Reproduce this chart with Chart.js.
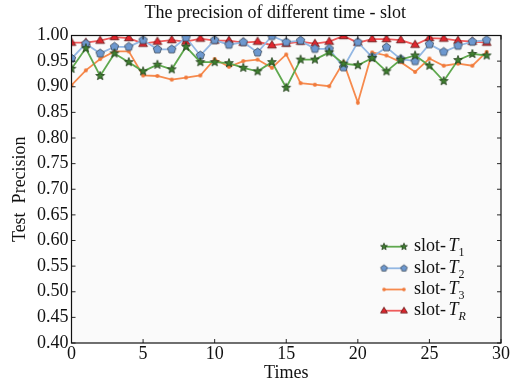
<!DOCTYPE html>
<html><head><meta charset="utf-8">
<script src="https://cdn.jsdelivr.net/npm/chart.js@4.4.1/dist/chart.umd.min.js"></script>
<style>html,body{margin:0;padding:0;background:#fff}#wrap{width:511px;height:380px}</style>
</head><body><div id="wrap"><canvas id="c" width="511" height="380"></canvas></div>
<script>
// ---- data ----
const times = [0,1,2,3,4,5,6,7,8,9,10,11,12,13,14,15,16,17,18,19,20,21,22,23,24,25,26,27,28,29];
const slotT1 = [0.935,0.975,0.921,0.965,0.948,0.930,0.943,0.934,0.978,0.948,0.948,0.946,0.937,0.930,0.948,0.898,0.953,0.953,0.967,0.945,0.942,0.956,0.930,0.953,0.961,0.941,0.911,0.952,0.964,0.961];
const slotT2 = [0.955,0.984,0.965,0.978,0.978,0.991,0.973,0.973,0.996,0.961,0.991,0.982,0.987,0.967,0.999,0.987,0.990,0.974,0.974,0.938,0.987,0.958,0.977,0.954,0.950,0.983,0.968,0.980,0.988,0.991];
const slotT3 = [0.903,0.932,0.954,0.969,0.969,0.922,0.921,0.914,0.918,0.922,0.954,0.939,0.950,0.953,0.937,0.963,0.907,0.904,0.901,0.948,0.869,0.967,0.961,0.948,0.929,0.955,0.941,0.945,0.941,0.968];
const slotTR = [0.986,0.986,0.990,0.997,0.995,0.984,0.988,0.991,0.988,0.994,0.990,0.990,0.986,0.988,0.981,0.984,0.988,0.984,0.988,0.999,0.986,0.993,0.993,0.991,0.982,0.995,0.994,0.990,0.988,0.986];
const xTicks = [0,5,10,15,20,25,30];
const yTicks = [0.40,0.45,0.50,0.55,0.60,0.65,0.70,0.75,0.80,0.85,0.90,0.95,1.00];
const seriesSubs = ['1','2','3','R'];
const chartTitle = 'The precision of different time - slot';
const xTitle = 'Times';
const yTitle = 'Test  Precision';

// ---- marker images ----
function mk(size, draw){ const c=document.createElement('canvas'); c.width=size; c.height=size; const g=c.getContext('2d'); g.translate(size/2,size/2); draw(g); return c; }
function poly(g, pts, fill, edge, lw){ g.beginPath(); pts.forEach((p,i)=> i?g.lineTo(p[0],p[1]):g.moveTo(p[0],p[1])); g.closePath(); g.fillStyle=fill; g.fill(); g.strokeStyle=edge; g.lineWidth=lw; g.stroke(); }
function starPts(r){ const p=[]; for(let i=0;i<10;i++){ const rr = i%2? r*0.42 : r; const a=-Math.PI/2 + i*Math.PI/5; p.push([rr*Math.cos(a), rr*Math.sin(a)]); } return p; }
function pentPts(r){ const p=[]; for(let i=0;i<5;i++){ const a=-Math.PI/2 + i*2*Math.PI/5; p.push([r*Math.cos(a), r*Math.sin(a)]); } return p; }
function triPts(r){ return [[0,-r],[r*0.95,r*0.6],[-r*0.95,r*0.6]]; }
const starImg = (r)=>mk(Math.ceil(2*r+4), g=>poly(g, starPts(r), '#3f7f30', '#1e3a16', 0.8));
const pentImg = (r)=>mk(Math.ceil(2*r+4), g=>poly(g, pentPts(r), '#6d98cf', '#3a4656', 0.8));
const triImg  = (r)=>mk(Math.ceil(2*r+4), g=>poly(g, triPts(r), '#e0262e', '#5a1212', 0.8));
const dotImg  = (r)=>mk(Math.ceil(2*r+4), g=>{ g.beginPath(); g.arc(0,0,r,0,Math.PI*2); g.fillStyle='#f07a3c'; g.fill(); });

const styles = [
  {line:'#5fa84e', img: starImg(4.6), legImg: starImg(3.6)},
  {line:'#93b7e3', img: pentImg(4.4), legImg: pentImg(3.4)},
  {line:'#f68a4d', img: dotImg(2.0),  legImg: dotImg(1.8)},
  {line:'#ef5b5b', img: triImg(4.6),  legImg: triImg(3.6)},
];
const series = [slotT1, slotT2, slotT3, slotTR];

const datasets = series.map((vals,i)=>({
  label: 'slot- T' + seriesSubs[i],
  data: times.map((t,k)=>({x:t, y:vals[k]})),
  borderColor: styles[i].line,
  backgroundColor: styles[i].line,
  borderWidth: 1.8,
  pointStyle: styles[i].img,
  pointRadius: 4,
  tension: 0,
}));

const serif = '"Liberation Serif", "Times New Roman", serif';

const framePlugin = {
  id:'frame',
  afterLayout(chart){ const t = chart.titleBlock; if (t) { t.left -= 11; t.right -= 11; } },
  beforeDraw(chart){ const {ctx, chartArea:a} = chart; ctx.save(); ctx.fillStyle='#fafafa'; ctx.fillRect(a.left,a.top,a.right-a.left,a.bottom-a.top); ctx.restore(); },
  afterDatasetsDraw(chart){
    const {ctx, chartArea:a, scales:{x,y}} = chart;
    ctx.save(); ctx.strokeStyle='#111'; ctx.lineWidth=1.2;
    ctx.strokeRect(a.left, a.top, a.right-a.left, a.bottom-a.top);
    ctx.beginPath(); ctx.lineWidth=0.9;
    xTicks.forEach(v=>{ const px=x.getPixelForValue(v); ctx.moveTo(px,a.bottom); ctx.lineTo(px,a.bottom-4); ctx.moveTo(px,a.top); ctx.lineTo(px,a.top+4); });
    yTicks.forEach(v=>{ const py=y.getPixelForValue(v); ctx.moveTo(a.left,py); ctx.lineTo(a.left+4,py); ctx.moveTo(a.right,py); ctx.lineTo(a.right-4,py); });
    ctx.stroke(); ctx.restore();
  }
};

const legendPlugin = {
  id:'customLegend',
  afterDraw(chart){
    const {ctx} = chart;
    const rows = [246.7, 268.3, 289.5, 310.7];
    const x1 = 384, x2 = 404, tx = 414;
    ctx.save();
    chart.data.datasets.forEach((ds,i)=>{
      const y = rows[i];
      ctx.strokeStyle = ds.borderColor; ctx.lineWidth = 1.8;
      ctx.beginPath(); ctx.moveTo(x1,y); ctx.lineTo(x2,y); ctx.stroke();
      const im = styles[i].legImg;
      ctx.drawImage(im, x1-im.width/2, y-im.height/2);
      ctx.drawImage(im, x2-im.width/2, y-im.height/2);
      ctx.fillStyle = '#111'; ctx.textBaseline='middle'; ctx.textAlign='left';
      ctx.font = '18px ' + serif;
      const pre = 'slot-';
      ctx.fillText(pre, tx, y);
      let xx = tx + ctx.measureText(pre).width + 2.5;
      ctx.font = 'italic 18px ' + serif;
      ctx.fillText('T', xx, y);
      xx += ctx.measureText('T').width;
      const sub = seriesSubs[i];
      ctx.font = (/[A-Z]/.test(sub) ? 'italic ' : '') + '12px ' + serif;
      ctx.fillText(sub, xx, y + 6.5);
    });
    ctx.restore();
  }
};

new Chart(document.getElementById('c'), {
  type:'line',
  data:{ datasets },
  plugins:[framePlugin, legendPlugin],
  options:{
    responsive:false, devicePixelRatio:1, animation:false,
    layout:{ padding:{ left:0, right:10, top:0, bottom:0 } },
    plugins:{
      legend:{ display:false },
      tooltip:{ enabled:false },
      title:{ display:true, text: chartTitle, fullSize:false, color:'#111',
        font:{ family: serif, size:18, weight:'normal', lineHeight:1.2 }, padding:{ top:2.2, bottom:11.7 } }
    },
    scales:{
      x:{ type:'linear', min:0, max:30,
        grid:{ display:false, drawTicks:false }, border:{ display:false },
        afterBuildTicks: s => { s.ticks = xTicks.map(v=>({value:v})); },
        afterFit: s => { s.height = 37; },
        ticks:{ color:'#111', padding:0.4, maxRotation:0, font:{ family: serif, size:18 }, callback: v => String(v) },
        title:{ display:true, text:xTitle, color:'#111', font:{ family: serif, size:18, lineHeight:0.78 }, padding:{ top:0, bottom:0 } }
      },
      y:{ type:'linear', min:0.40, max:1.00,
        grid:{ display:false, drawTicks:false }, border:{ display:false },
        afterBuildTicks: s => { s.ticks = yTicks.map(v=>({value:v})); },
        afterFit: s => { s.width = 71.5; },
        ticks:{ color:'#111', padding:3, font:{ family: serif, size:18 }, callback: v => Number(v).toFixed(2) },
        title:{ display:true, text:yTitle, color:'#111', font:{ family: serif, size:18, lineHeight:1.2 }, padding:{ top:9.8, bottom:0 } }
      }
    }
  }
});
</script></body></html>
